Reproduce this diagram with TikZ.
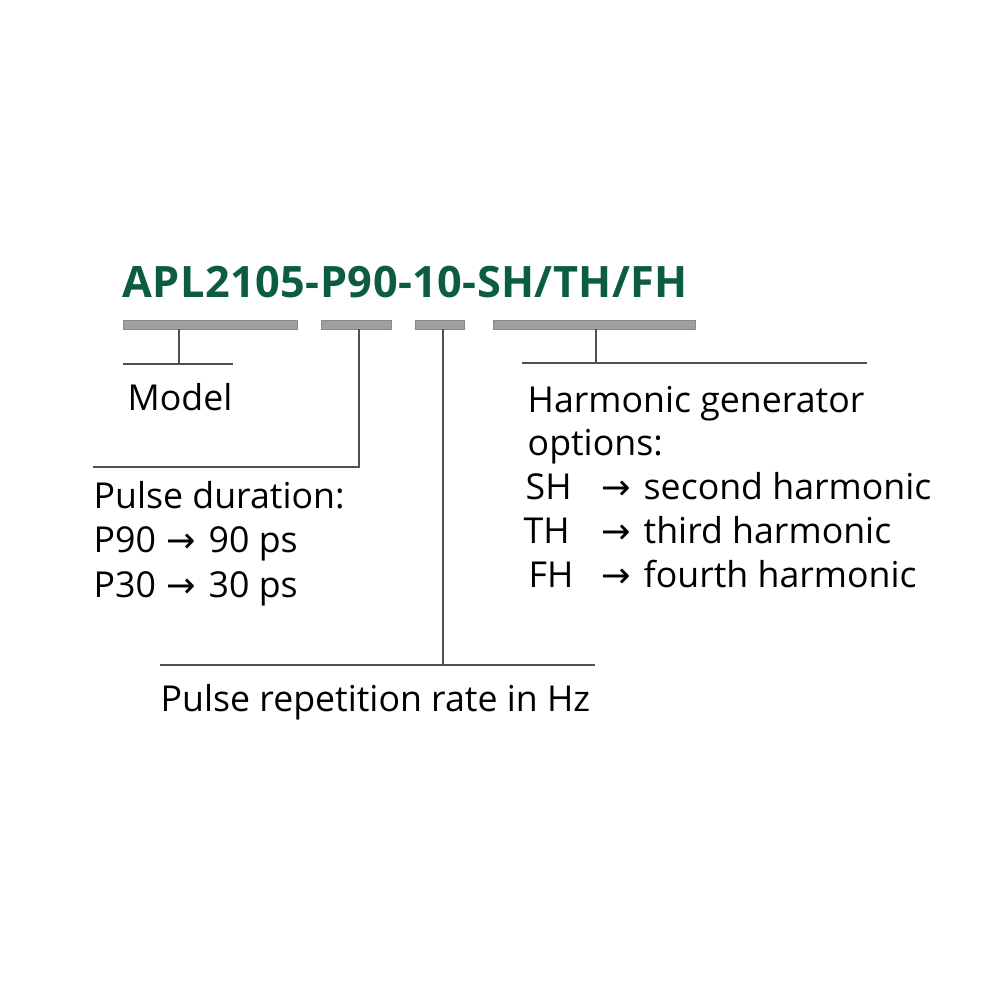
\documentclass[tikz,border=0pt]{standalone}
\usepackage{fontspec}
\setmainfont{Open Sans}
\newfontfamily\arrowfont{DejaVu Sans}
\newfontfamily\titlefont{Open Sans}[LetterSpace=1]
\definecolor{titlegreen}{RGB}{12,92,66}
\definecolor{bargray}{RGB}{160,160,160}
\definecolor{linegray}{RGB}{80,80,80}
\newcommand{\ar}{{\arrowfont\fontsize{10}{12}\selectfont →}}
\tikzset{
  titletext/.style={anchor=base west, inner sep=0pt, text=titlegreen, font=\titlefont\fontsize{12.3}{14}\selectfont\bfseries},
  lbl/.style={anchor=base west, inner sep=0pt, text=black, font=\fontsize{10.15}{12}\selectfont},
  bar/.style={fill=bargray, draw=bargray!85!black, line width=0.2pt, inner sep=0pt, minimum height=0.9mm},
  conn/.style={draw=linegray, line width=0.45pt},
}
\begin{document}
\begin{tikzpicture}[x=0.01cm, y=-0.01cm]
\useasboundingbox[fill=white] (0,0) rectangle (1000,1000);

\node[titletext] (title) at (122,297) {APL2105-P90-10-SH/TH/FH};

% bars
\node[bar, minimum width=17.4mm] (b1) at (210,324.5) {};
\node[bar, minimum width=7.0mm] (b2) at (356,324.5) {};
\node[bar, minimum width=4.9mm] (b3) at (439.5,324.5) {};
\node[bar, minimum width=20.2mm] (b4) at (594,324.5) {};

% junction coordinates
\coordinate (j1) at (179,364);
\coordinate (h1a) at (123,364);
\coordinate (h1b) at (233,364);
\coordinate (j2) at (359,467);
\coordinate (h2a) at (93,467);
\coordinate (j3) at (443,665);
\coordinate (h3a) at (160,665);
\coordinate (h3b) at (595,665);
\coordinate (j4) at (596,363);
\coordinate (h4a) at (522,363);
\coordinate (h4b) at (867,363);

% connectors
\draw[conn] (b1.south -| j1) -- (j1);
\draw[conn] (h1a) -- (h1b);
\draw[conn] (b2.south -| j2) -- (j2) -- (h2a);
\draw[conn] (b3.south -| j3) -- (j3);
\draw[conn] (h3a) -- (h3b);
\draw[conn] (b4.south -| j4) -- (j4);
\draw[conn] (h4a) -- (h4b);

% labels
\node[lbl] (model) at (127,410) {Model};

\node[lbl] (pd) at (93,508) {Pulse duration:};
\node[lbl] (p90) at (93,552) {P90};
\node[lbl] (p90a) at (166,552) {\ar};
\node[lbl] (p90v) at (208,552) {90 ps};
\node[lbl] (p30) at (93,597) {P30};
\node[lbl] (p30a) at (166,597) {\ar};
\node[lbl] (p30v) at (208,597) {30 ps};

\node[lbl] (hg) at (527,412) {Harmonic generator};
\node[lbl] (opt) at (527,455) {options:};
\node[lbl] (sh) at (525,499) {SH};
\node[lbl] (sha) at (601,499) {\ar};
\node[lbl] (shv) at (643,499) {second harmonic};
\node[lbl] (th) at (523,543) {TH};
\node[lbl] (tha) at (601,543) {\ar};
\node[lbl] (thv) at (643,543) {third harmonic};
\node[lbl] (fh) at (528,587) {FH};
\node[lbl] (fha) at (601,587) {\ar};
\node[lbl] (fhv) at (643,587) {fourth harmonic};

\node[lbl] (prr) at (160,711) {Pulse repetition rate in Hz};
\end{tikzpicture}
\end{document}
